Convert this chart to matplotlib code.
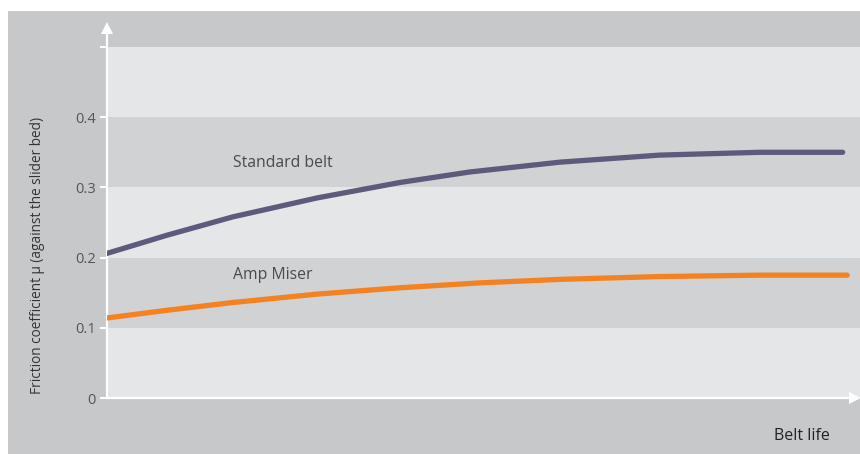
import matplotlib
matplotlib.use("Agg")
import matplotlib.pyplot as plt
from matplotlib.patches import Rectangle

plt.rcParams['font.family'] = ['Open Sans', 'DejaVu Sans']

# Data (belt life in % of axis length, friction coefficient)
life_std = [0, 8.0, 16.7, 27.9, 38.9, 48.2, 60.2, 73.4, 86.7, 97.7]
mu_std = [0.206, 0.232, 0.258, 0.285, 0.307, 0.322, 0.336, 0.346, 0.350, 0.350]
life_amp = [0, 8.0, 16.7, 27.9, 38.9, 49.5, 60.2, 73.4, 86.7, 98.3]
mu_amp = [0.114, 0.125, 0.136, 0.148, 0.157, 0.164, 0.169, 0.173, 0.175, 0.175]
yticks = [0, 0.1, 0.2, 0.3, 0.4]
ytick_labels = ["0", "0.1", "0.2", "0.3", "0.4"]
series_labels = ["Standard belt", "Amp Miser"]

W, H = 860, 454
fig = plt.figure(figsize=(W / 100, H / 100), dpi=100)
fig.patch.set_facecolor("white")

# gray panel in a background axes
bg = fig.add_axes([0, 0, 1, 1], zorder=0)
bg.set_axis_off()
bg.set_xlim(0, 1)
bg.set_ylim(0, 1)
bg.add_patch(Rectangle((8 / W, 0), (W - 8) / W, (H - 11) / H,
                       facecolor="#c7c8ca", edgecolor="none"))

ax = fig.add_axes([107 / W, 56 / H, (W - 107) / W, (398 - 22) / H], zorder=1)
ax.set_facecolor("none")
ymax = (398 - 22) / 702
ax.set_xlim(0, 100)
ax.set_ylim(0, ymax)

# bands
band_cols = ["#e5e6e8", "#d1d2d4", "#e5e6e8", "#d1d2d4", "#e5e6e8"]
for i, c in enumerate(band_cols):
    ax.axhspan(i * 0.1, (i + 1) * 0.1, color=c, lw=0, zorder=1)

for s in ax.spines.values():
    s.set_visible(False)

# axes lines with arrows
ax.plot([0, 0], [0, ymax - 0.012], color="white", lw=1.6, zorder=3, clip_on=False)
ax.plot([0], [ymax - 0.008], marker="^", color="white", ms=8, mew=0, zorder=3, clip_on=False)
ax.plot([0, 98.8], [0, 0], color="white", lw=1.6, zorder=3, clip_on=False)
ax.plot([99.3], [0], marker=">", color="white", ms=8, mew=0, zorder=3, clip_on=False)

# ticks
ax.set_xticks([])
ax.set_yticks(yticks + [0.5])
ax.set_yticklabels(ytick_labels + [""])
ax.tick_params(axis="y", direction="out", length=5, width=1.5, color="white",
               labelcolor="#555555", labelsize=10.5, pad=3)

# lines
ax.plot(life_std, mu_std, color="#5f5a7c", lw=3.8, solid_capstyle="round",
        solid_joinstyle="round", zorder=4)
ax.plot(life_amp, mu_amp, color="#f58220", lw=3.8, solid_capstyle="round",
        solid_joinstyle="round", zorder=4)

ax.text(16.7, 0.335, series_labels[0], color="#4a4a4a", fontsize=11.3, va="center", ha="left", zorder=5)
ax.text(16.7, 0.175, series_labels[1], color="#4a4a4a", fontsize=11.3, va="center", ha="left", zorder=5)

fig.text(38 / W, 1 - 255 / H, "Friction coefficient µ (against the slider bed)",
         rotation=90, ha="center", va="center", color="#333333", fontsize=9.8)
fig.text(830 / W, 1 - 436 / H, "Belt life", ha="right", va="center",
         color="#222222", fontsize=11.5)

fig.savefig("out.png", dpi=100, facecolor="white")
